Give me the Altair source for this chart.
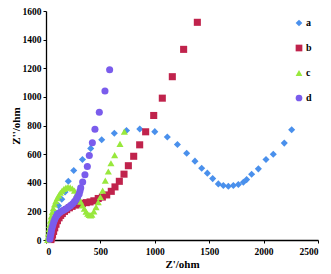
import altair as alt
import pandas as pd

a_x = [38, 45, 55, 70, 90, 115, 145, 175, 205, 255, 335, 411, 512, 628, 740, 862, 1000, 1115, 1208, 1293,
       1369, 1431, 1483, 1532, 1584, 1630, 1676, 1722, 1768, 1814, 1844, 1890, 1952, 2022, 2089, 2190, 2258]
a_y = [5, 40, 85, 140, 190, 240, 285, 335, 410, 485, 563, 640, 700, 746, 765, 775, 757, 720, 667, 606,
       551, 501, 467, 429, 392, 381, 376, 381, 388, 403, 422, 460, 497, 563, 599, 677, 770]

b_x = [45, 52, 60, 70, 80, 92, 105, 120, 135, 150, 170, 190, 215, 240, 270, 300, 335, 370, 405, 440,
       480, 518, 558, 600, 634, 674, 717, 757, 806, 861, 916, 990, 1069, 1161, 1265, 1391]
b_y = [3, 15, 35, 60, 85, 110, 135, 155, 172, 185, 200, 212, 225, 235, 244, 250, 256, 261, 266, 274,
       290, 300, 315, 340, 371, 410, 460, 519, 585, 665, 756, 870, 991, 1141, 1332, 1521]

c_x = [15, 18, 22, 27, 33, 40, 48, 57, 67, 78, 90, 103, 117, 132, 148, 165, 183, 202, 222, 242,
       262, 282, 300, 318, 335, 352, 368, 383, 397, 410, 422, 440, 460, 480, 500, 521, 545, 573, 597,
       631, 680, 720]
c_y = [0, 20, 45, 75, 105, 135, 165, 195, 222, 248, 272, 293, 312, 330, 345, 357, 366, 370, 368, 360,
       345, 322, 296, 268, 242, 218, 198, 183, 175, 172, 176, 200, 230, 265, 300, 345, 415, 479, 536,
       593, 672, 757]

d_x = [35, 40, 45, 50, 56, 63, 71, 80, 90, 102, 115, 130, 147, 165, 185, 205, 225, 245, 262, 278,
       292, 305, 312, 319, 337, 358, 380, 398, 426, 450, 490, 542, 585]
d_y = [5, 25, 45, 65, 85, 105, 125, 143, 160, 173, 185, 194, 202, 210, 218, 228, 240, 253, 268, 285,
       303, 322, 342, 364, 405, 456, 513, 590, 679, 774, 893, 1041, 1189]

series = ["a", "b", "c", "d"]
colors = ["#4a90ec", "#c0234c", "#98e83c", "#7a5cec"]
shapes = ["diamond", "square", "triangle-up", "circle"]

rows = []
for name, xs, ys in [("a", a_x, a_y), ("b", b_x, b_y), ("c", c_x, c_y), ("d", d_x, d_y)]:
    for x, y in zip(xs, ys):
        rows.append({"s": name, "x": x, "y": y})
df = pd.DataFrame(rows)

font = "Liberation Serif"

chart = alt.Chart(df).mark_point(filled=True, opacity=1, size=50).encode(
    x=alt.X("x:Q", scale=alt.Scale(domain=[0, 2500], nice=False),
            axis=alt.Axis(values=[0, 500, 1000, 1500, 2000, 2500], format="d",
                          title="Z'/ohm", grid=False)),
    y=alt.Y("y:Q", scale=alt.Scale(domain=[0, 1600], nice=False),
            axis=alt.Axis(values=list(range(0, 1601, 200)), format="d",
                          title="Z''/ohm", grid=False)),
    color=alt.Color("s:N", scale=alt.Scale(domain=series, range=colors),
                    legend=alt.Legend(title=None, orient="none", legendX=248, legendY=7,
                                      rowPadding=15, labelFont=font, labelFontSize=10,
                                      labelFontWeight="bold", symbolSize=45, padding=0,
                                      labelOffset=2, labelColor="black")),
    shape=alt.Shape("s:N", scale=alt.Scale(domain=series, range=shapes)),
    order=alt.Order("s:N", sort="ascending"),
).properties(
    width=272, height=229,
    autosize=alt.AutoSizeParams(type="none"),
    padding={"left": 38, "top": 3, "right": 5, "bottom": 30},
).configure_view(stroke=None).configure_axis(
    domainColor="black", domainWidth=1.3, tickColor="black", tickSize=3,
    labelFont=font, labelFontSize=9.5, labelFontWeight="bold", labelColor="black",
    titleFont=font, titleFontSize=11, titleFontWeight="bold", titleColor="black",
).configure_axisX(titlePadding=3, labelPadding=3).configure_axisY(titlePadding=1, labelPadding=2)

chart.save("out.html", embed_options={"renderer": "svg", "actions": False})
